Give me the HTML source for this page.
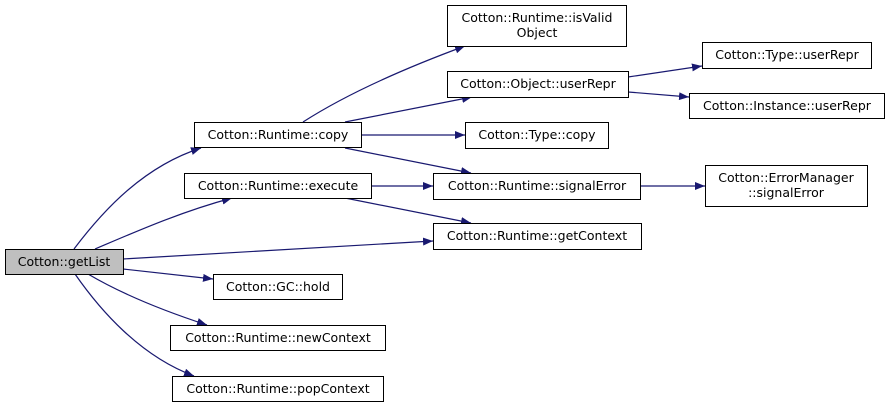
<!DOCTYPE html>
<html><head><meta charset="utf-8"><style>
html,body{margin:0;padding:0;background:#fff;}
svg{display:block}
text{font-family:"DejaVu Sans","Liberation Sans",sans-serif;font-size:12.5px;fill:#000}
</style></head><body>
<svg width="889" height="407" viewBox="0 0 889 407" xmlns="http://www.w3.org/2000/svg">
<defs><marker id="a" markerWidth="10" markerHeight="8" refX="10" refY="4" orient="auto" markerUnits="userSpaceOnUse"><path d="M0,0 L10,4 L0,8 z" fill="#191970"/></marker></defs>
<g fill="none" stroke="#191970" stroke-width="1.2" marker-end="url(#a)">
<path d="M74,249 C105,208 145,166 201,148"/>
<path d="M95,249 C135,232 180,212 232,198"/>
<path d="M123,259 L433,241"/>
<path d="M123,269 L213,279"/>
<path d="M88,274 C115,290 155,308 207,325"/>
<path d="M75,274 C100,310 140,356 194,376"/>
<path d="M303,122 C345,95 400,70 465,46"/>
<path d="M345,122 L472,97"/>
<path d="M361,135 L465,135"/>
<path d="M345,148 L471,173"/>
<path d="M371,186 L433,186"/>
<path d="M345,198 L471,223"/>
<path d="M628,77 L702,66"/>
<path d="M628,92 L689,97"/>
<path d="M640,186 L705,186"/>
</g>
<g stroke="#000" stroke-width="1" fill="#fff">
<rect x="5.5" y="249.5" width="118" height="25" fill="#bfbfbf"/>
<rect x="194.5" y="122.5" width="167" height="25"/>
<rect x="184.5" y="173.5" width="187" height="25"/>
<rect x="213.5" y="274.5" width="129" height="25"/>
<rect x="170.5" y="325.5" width="215" height="25"/>
<rect x="172.5" y="376.5" width="211" height="25"/>
<rect x="447.5" y="5.5" width="179" height="41"/>
<rect x="447.5" y="71.5" width="181" height="26"/>
<rect x="465.5" y="122.5" width="143" height="26"/>
<rect x="433.5" y="173.5" width="207" height="26"/>
<rect x="433.5" y="223.5" width="208" height="26"/>
<rect x="702.5" y="42.5" width="169" height="26"/>
<rect x="689.5" y="93.5" width="195" height="25"/>
<rect x="705.5" y="165.5" width="162" height="41"/>
</g>
<g text-anchor="middle">
<text x="64" y="266">Cotton::getList</text>
<text x="278" y="139">Cotton::Runtime::copy</text>
<text x="278" y="190">Cotton::Runtime::execute</text>
<text x="278" y="291">Cotton::GC::hold</text>
<text x="278" y="342">Cotton::Runtime::newContext</text>
<text x="278" y="393">Cotton::Runtime::popContext</text>
<text x="537" y="22">Cotton::Runtime::isValid</text>
<text x="537" y="37">Object</text>
<text x="538" y="88">Cotton::Object::userRepr</text>
<text x="537" y="139">Cotton::Type::copy</text>
<text x="537" y="190">Cotton::Runtime::signalError</text>
<text x="537" y="240">Cotton::Runtime::getContext</text>
<text x="787" y="59">Cotton::Type::userRepr</text>
<text x="787" y="110">Cotton::Instance::userRepr</text>
<text x="786" y="182">Cotton::ErrorManager</text>
<text x="786" y="197">::signalError</text>
</g>
</svg>
</body></html>
